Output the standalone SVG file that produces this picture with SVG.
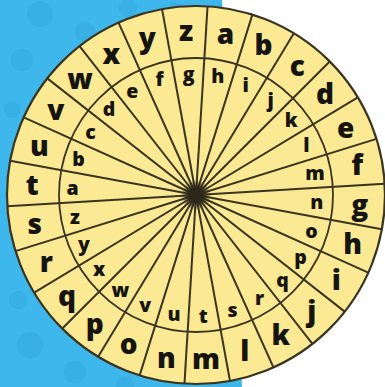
<svg xmlns="http://www.w3.org/2000/svg" xmlns:xlink="http://www.w3.org/1999/xlink" width="385" height="387" viewBox="0 0 385 387">
<style>
.o{font-family:"Open Sans","Noto Sans","DejaVu Sans",sans-serif;font-weight:800;font-size:28px;fill:#151410;text-anchor:middle}
.i{font-family:"Open Sans","Noto Sans","DejaVu Sans",sans-serif;font-weight:800;font-size:19.5px;fill:#151410;text-anchor:middle}
.dot{fill:#33a8de;opacity:.5}
.sp{stroke:#3a3420;stroke-width:2}
</style>
<defs>
<line id="spoke" class="sp" x1="0" y1="0" x2="0" y2="-189"/>
<radialGradient id="hub">
<stop offset="0" stop-color="#2a2518"/>
<stop offset="0.5" stop-color="#2a2518" stop-opacity=".85"/>
<stop offset="1" stop-color="#2a2518" stop-opacity="0"/>
</radialGradient>
</defs>
<rect width="385" height="387" fill="#ffffff"/>
<polygon points="0,0 222,0 242,387 0,387" fill="#3db7ec"/>
<g id="dots">
<circle class="dot" cx="40" cy="14" r="13"/>
<circle class="dot" cx="85" cy="32" r="10"/>
<circle class="dot" cx="128" cy="8" r="9"/>
<circle class="dot" cx="22" cy="60" r="11"/>
<circle class="dot" cx="12" cy="110" r="8"/>
<circle class="dot" cx="60" cy="75" r="7"/>
<circle class="dot" cx="18" cy="300" r="9"/>
<circle class="dot" cx="30" cy="345" r="13"/>
<circle class="dot" cx="75" cy="372" r="11"/>
<circle class="dot" cx="125" cy="385" r="9"/>
<circle class="dot" cx="175" cy="8" r="6"/>
</g>
<g id="wheel">
<circle cx="196" cy="195" r="189" fill="#fbea93" stroke="#3a3420" stroke-width="2.2"/>
<circle cx="196" cy="195" r="137" fill="none" stroke="#3a3420" stroke-width="1.8"/>
</g>
<g id="connectors" transform="translate(196,195)">
<use xlink:href="#spoke" transform="rotate(3.5)"/>
<use xlink:href="#spoke" transform="rotate(17.35)"/>
<use xlink:href="#spoke" transform="rotate(31.19)"/>
<use xlink:href="#spoke" transform="rotate(45.04)"/>
<use xlink:href="#spoke" transform="rotate(58.88)"/>
<use xlink:href="#spoke" transform="rotate(72.73)"/>
<use xlink:href="#spoke" transform="rotate(86.58)"/>
<use xlink:href="#spoke" transform="rotate(100.42)"/>
<use xlink:href="#spoke" transform="rotate(114.27)"/>
<use xlink:href="#spoke" transform="rotate(128.11)"/>
<use xlink:href="#spoke" transform="rotate(141.96)"/>
<use xlink:href="#spoke" transform="rotate(155.81)"/>
<use xlink:href="#spoke" transform="rotate(169.65)"/>
<use xlink:href="#spoke" transform="rotate(183.5)"/>
<use xlink:href="#spoke" transform="rotate(197.35)"/>
<use xlink:href="#spoke" transform="rotate(211.19)"/>
<use xlink:href="#spoke" transform="rotate(225.04)"/>
<use xlink:href="#spoke" transform="rotate(238.88)"/>
<use xlink:href="#spoke" transform="rotate(252.73)"/>
<use xlink:href="#spoke" transform="rotate(266.58)"/>
<use xlink:href="#spoke" transform="rotate(280.42)"/>
<use xlink:href="#spoke" transform="rotate(294.27)"/>
<use xlink:href="#spoke" transform="rotate(308.11)"/>
<use xlink:href="#spoke" transform="rotate(321.96)"/>
<use xlink:href="#spoke" transform="rotate(335.81)"/>
<use xlink:href="#spoke" transform="rotate(349.65)"/>
<circle r="15" fill="url(#hub)"/>
</g>
<g id="outer-letters">
<text class="o" x="225.6" y="43.5">a</text>
<text class="o" x="263.4" y="55.3">b</text>
<text class="o" x="297.2" y="75.7">c</text>
<text class="o" x="325.1" y="103.7">d</text>
<text class="o" x="345.6" y="137.5">e</text>
<text class="o" x="357.3" y="175.3">f</text>
<text class="o" x="359.7" y="214.8">g</text>
<text class="o" x="352.6" y="253.6">h</text>
<text class="o" x="336.3" y="289.7">i</text>
<text class="o" x="311.9" y="320.8">j</text>
<text class="o" x="280.8" y="345.2">k</text>
<text class="o" x="244.7" y="361.4">l</text>
<text class="o" x="205.9" y="368.5">m</text>
<text class="o" x="166.4" y="368.1">n</text>
<text class="o" x="128.7" y="354.3">o</text>
<text class="o" x="94.8" y="333.9">p</text>
<text class="o" x="66.9" y="305.9">q</text>
<text class="o" x="46.4" y="272.1">r</text>
<text class="o" x="34.7" y="234.3">s</text>
<text class="o" x="32.3" y="194.9">t</text>
<text class="o" x="39.4" y="156">u</text>
<text class="o" x="55.7" y="119.9">v</text>
<text class="o" x="80.1" y="88.8">w</text>
<text class="o" x="111.2" y="64.4">x</text>
<text class="o" x="147.3" y="48.2">y</text>
<text class="o" x="186.1" y="41.1">z</text>
</g>
<g id="inner-letters">
<text class="i" x="217.8" y="82.8">h</text>
<text class="i" x="245.7" y="91.5">i</text>
<text class="i" x="270.6" y="106.6">j</text>
<text class="i" x="291.3" y="127.2">k</text>
<text class="i" x="306.4" y="152.2">l</text>
<text class="i" x="315" y="180">m</text>
<text class="i" x="316.8" y="209.1">n</text>
<text class="i" x="311.5" y="237.8">o</text>
<text class="i" x="300.5" y="264.4">p</text>
<text class="i" x="282.5" y="287.4">q</text>
<text class="i" x="259.6" y="305.4">r</text>
<text class="i" x="232.5" y="317.3">s</text>
<text class="i" x="203.3" y="322.6">t</text>
<text class="i" x="174" y="320.8">u</text>
<text class="i" x="145.3" y="312.1">v</text>
<text class="i" x="120.4" y="297.1">w</text>
<text class="i" x="99.2" y="276.4">x</text>
<text class="i" x="84" y="251.4">y</text>
<text class="i" x="75" y="223.6">z</text>
<text class="i" x="72.7" y="194.5">a</text>
<text class="i" x="78.5" y="165.8">b</text>
<text class="i" x="90.5" y="139.2">c</text>
<text class="i" x="109" y="116.2">d</text>
<text class="i" x="132.4" y="98.2">e</text>
<text class="i" x="159.5" y="86.3">f</text>
<text class="i" x="188.7" y="81">g</text>
</g>
</svg>
